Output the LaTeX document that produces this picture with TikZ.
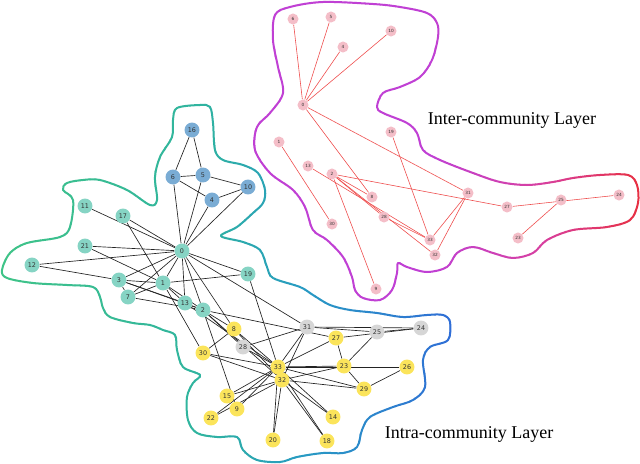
\documentclass[tikz,border=0pt]{standalone}
\usepackage{fontspec}
\setmainfont{Liberation Serif}
\setsansfont{DejaVu Sans}
\usetikzlibrary{backgrounds}
\definecolor{teal0}{RGB}{134,212,196}
\definecolor{blue0}{RGB}{122,172,212}
\definecolor{gray0}{RGB}{214,214,214}
\definecolor{yel0}{RGB}{251,228,91}
\definecolor{pink0}{RGB}{244,190,200}
\definecolor{redge}{RGB}{238,78,78}
\definecolor{kedge}{RGB}{35,35,35}
\tikzset{
 lnode/.style={circle, inner sep=0pt, minimum size=11.2pt, font=\sffamily\fontsize{4.8}{5}\selectfont, text=black!80},
 tn/.style={lnode, fill=teal0}, bn/.style={lnode, fill=blue0},
 gn/.style={lnode, fill=gray0}, yn/.style={lnode, fill=yel0},
 un/.style={circle, inner sep=0pt, minimum size=8.3pt, fill=pink0, font=\sffamily\fontsize{3.2}{3.4}\selectfont, text=black!80},
 ledge/.style={draw=kedge, line width=0.5pt},
 uedge/.style={draw=redge, line width=0.45pt},
 layertext/.style={font=\fontsize{13.5}{15}\selectfont, inner sep=0pt},
 contourline/.style={line width=1.5pt, line join=round}
}
\newcommand\lowercontour[1]{\draw[#1] plot[smooth cycle, tension=0.55] coordinates {
(177,108) (200,105) (210,107) (213,123) (215,150) (223,160) (243,165) (258,173) (265,190) (263,203) (253,213) (237,227) (221,236) (243,242) (260,250) (267,267) (273,278) (300,287) (313,295) (330,305) (350,310) (377,313) (403,317) (427,315) (443,315) (450,322) (448,340) (430,347) (423,360) (425,387) (413,400) (393,407) (370,417) (362,430) (357,447) (343,453) (323,453) (297,457) (280,462) (257,460) (243,450) (237,437) (217,437) (197,433) (188,420) (187,397) (193,383) (200,375) (183,367) (177,350) (175,335) (163,330) (150,325) (133,323) (110,317) (103,308) (100,297) (93,287) (67,285) (33,283) (7,278) (2,270) (10,253) (27,243) (60,237) (70,227) (73,200) (63,190) (67,183) (83,180) (100,180) (127,190) (150,205) (157,200) (155,177) (160,157) (172,137) (173,120)};}
\newcommand\uppercontour[1]{\draw[#1] plot[smooth cycle, tension=0.55] coordinates {
(275,15) (290,7) (323,2) (373,4) (400,7) (427,13) (437,23) (438,37) (432,60) (420,77) (400,87) (383,93) (377,107) (383,113) (407,123) (417,133) (423,150) (440,160) (473,173) (500,182) (527,185) (553,182) (573,178) (600,175) (628,175) (637,185) (638,203) (630,220) (607,227) (573,230) (547,240) (533,253) (513,258) (493,253) (473,247) (457,253) (447,267) (427,272) (407,267) (398,263) (397,273) (392,290) (380,300) (363,298) (355,290) (352,277) (343,257) (327,240) (313,230) (305,207) (293,190) (270,173) (255,150) (257,127) (270,113) (283,93) (278,67) (273,40)};}
\begin{document}
\begin{tikzpicture}[x=0.75pt, y=-0.75pt]
\useasboundingbox (0,0) rectangle (640,464);
% lower contour with horizontal gradient
\foreach \i in {0,...,91} {
  \pgfmathsetmacro\xa{\i*5}
  \pgfmathsetmacro\tA{min(\xa,200)/200}
  \pgfmathsetmacro\tB{max(min(\xa,300)-200,0)/100}
  \pgfmathsetmacro\tC{max(\xa-300,0)/150}
  \pgfmathtruncatemacro\colR{64-16*\tA-8*\tB+8*\tC}
  \pgfmathtruncatemacro\colG{196-16*\tA-25*\tB-45*\tC}
  \pgfmathtruncatemacro\colB{136+24*\tA+35*\tB+20*\tC}
  \definecolor{cc}{RGB}{\colR,\colG,\colB}
  \begin{scope}
    \clip (\xa-0.4,0) rectangle (\xa+5.4,464);
    \lowercontour{cc, contourline}
  \end{scope}
}
% upper contour with horizontal gradient
\foreach \i in {50,...,128} {
  \pgfmathsetmacro\xa{\i*5}
  \pgfmathsetmacro\tA{max(min(\xa,540)-430,0)/110}
  \pgfmathsetmacro\tB{max(\xa-540,0)/100}
  \pgfmathtruncatemacro\colR{192+24*\tA+16*\tB}
  \pgfmathtruncatemacro\colG{64-16*\tB}
  \pgfmathtruncatemacro\colB{212-52*\tA-96*\tB}
  \definecolor{cc}{RGB}{\colR,\colG,\colB}
  \begin{scope}
    \clip (\xa-0.4,0) rectangle (\xa+5.4,464);
    \uppercontour{cc, contourline}
  \end{scope}
}
% lower layer nodes
\node[bn] (L16) at (192,130) {16};
\node[bn] (L6) at (173,177) {6};
\node[bn] (L5) at (203,175) {5};
\node[bn] (L10) at (248,187) {10};
\node[bn] (L4) at (212,200) {4};
\node[tn] (L11) at (85,206) {11};
\node[tn] (L17) at (123,216) {17};
\node[tn] (L0) at (182,251) {0};
\node[tn] (L21) at (85,246) {21};
\node[tn] (L12) at (32,265) {12};
\node[tn] (L19) at (248,274) {19};
\node[tn] (L3) at (119,280) {3};
\node[tn] (L1) at (163,283) {1};
\node[tn] (L7) at (128,297) {7};
\node[tn] (L13) at (185,303) {13};
\node[tn] (L2) at (203,310) {2};
\node[yn] (L8) at (234,329) {8};
\node[gn] (L31) at (307,327) {31};
\node[gn] (L28) at (243,347) {28};
\node[yn] (L30) at (203,353) {30};
\node[yn] (L27) at (336,338) {27};
\node[gn] (L25) at (377,332) {25};
\node[gn] (L24) at (421,328) {24};
\node[yn] (L33) at (278,367) {33};
\node[yn] (L32) at (282,380) {32};
\node[yn] (L23) at (344,366) {23};
\node[yn] (L26) at (407,367) {26};
\node[yn] (L29) at (364,389) {29};
\node[yn] (L15) at (227,396) {15};
\node[yn] (L9) at (237,409) {9};
\node[yn] (L22) at (211,418) {22};
\node[yn] (L14) at (333,417) {14};
\node[yn] (L20) at (273,440) {20};
\node[yn] (L18) at (327,441) {18};
% upper layer nodes
\node[un] (U6) at (293,19) {6};
\node[un] (U5) at (331,17) {5};
\node[un] (U4) at (343,47) {4};
\node[un] (U10) at (391,31) {10};
\node[un] (U0) at (303,105) {0};
\node[un] (U19) at (391,132) {19};
\node[un] (U1) at (279,142) {1};
\node[un] (U13) at (308,166) {13};
\node[un] (U2) at (332,174) {2};
\node[un] (U8) at (372,197) {8};
\node[un] (U28) at (384,217) {28};
\node[un] (U30) at (332,224) {30};
\node[un] (U31) at (468,193) {31};
\node[un] (U27) at (507,207) {27};
\node[un] (U25) at (561,200) {25};
\node[un] (U24) at (619,195) {24};
\node[un] (U23) at (518,238) {23};
\node[un] (U33) at (430,240) {33};
\node[un] (U32) at (435,255) {32};
\node[un] (U9) at (376,289) {9};
\begin{pgfonlayer}{background}
\foreach \a/\b in {0/1,0/2,0/3,0/4,0/5,0/6,0/7,0/8,0/10,0/11,0/12,0/13,0/17,0/19,0/21,0/31,1/2,1/3,1/7,1/13,1/17,1/19,1/21,1/30,2/3,2/7,2/8,2/9,2/13,2/27,2/28,2/32,3/7,3/12,3/13,4/6,4/10,5/6,5/10,5/16,6/16,8/30,8/32,8/33,9/33,13/33,14/32,14/33,15/32,15/33,18/32,18/33,19/33,20/32,20/33,22/32,22/33,23/25,23/27,23/29,23/32,23/33,24/25,24/27,24/31,25/31,26/29,26/33,27/33,28/31,28/33,29/32,29/33,30/32,30/33,31/32,31/33,32/33}
  \draw[ledge] (L\a) -- (L\b);
\foreach \a/\b in {0/4,0/5,0/6,0/10,0/8,0/31,1/30,2/8,2/9,2/27,2/28,2/32,13/33,19/33,28/33,31/32,31/33,24/27,23/25}
  \draw[uedge] (U\a) -- (U\b);
\end{pgfonlayer}
% layer labels
\node[layertext] (interlbl) at (512,120) {Inter-community Layer};
\node[layertext] (intralbl) at (469,434) {Intra-community Layer};
\end{tikzpicture}
\end{document}
